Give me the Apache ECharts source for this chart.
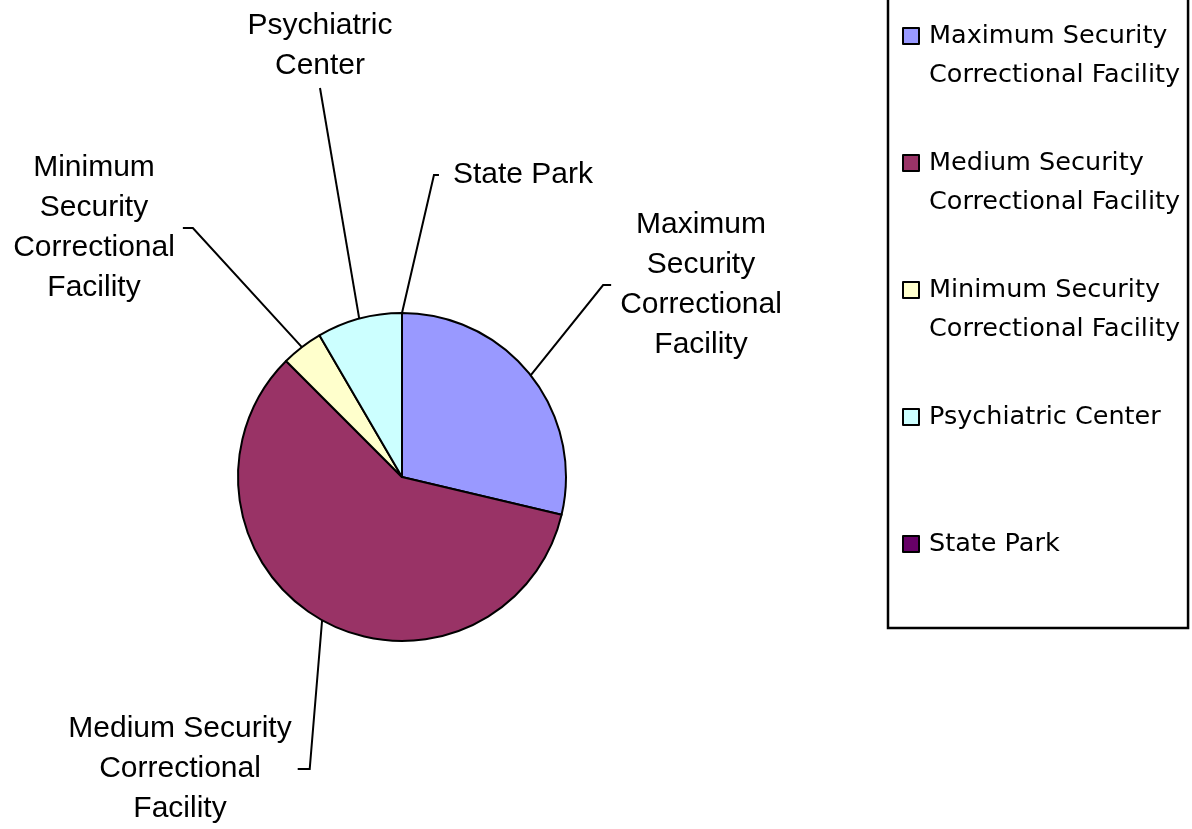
<!DOCTYPE html>
<html>
<head>
<meta charset="utf-8">
<script src="https://cdn.jsdelivr.net/npm/echarts@6/dist/echarts.min.js"></script>
<style>
  html, body { margin: 0; padding: 0; background: #fff; }
  #chart { width: 1192px; height: 829px; }
</style>
</head>
<body>
<div id="chart"></div>
<script>
// ---- data ----
const categories = [
  'Maximum Security Correctional Facility',
  'Medium Security Correctional Facility',
  'Minimum Security Correctional Facility',
  'Psychiatric Center',
  'State Park'
];
const values = [28.7, 58.8, 4.1, 8.4, 0];
const labelTexts = [
  'Maximum\nSecurity\nCorrectional\nFacility',
  'Medium Security\nCorrectional\nFacility',
  'Minimum\nSecurity\nCorrectional\nFacility',
  'Psychiatric\nCenter',
  'State Park'
];
const legendTexts = [
  'Maximum Security\nCorrectional Facility',
  'Medium Security\nCorrectional Facility',
  'Minimum Security\nCorrectional Facility',
  'Psychiatric Center',
  'State Park'
];
const colors = ['#9999FF', '#993366', '#FFFFCC', '#CCFFFF', '#660066'];

// ---- label placement (layout only) ----
const labelPlace = [
  { cx: 701, cy: 285, side: 'left',   gap: 9,  tick: 8 },
  { cx: 180, cy: 769, side: 'right',  gap: 6,  tick: 12 },
  { cx: 94,  cy: 228, side: 'right',  gap: 8,  tick: 10 },
  { cx: 320, cy: 46,  side: 'bottom', gap: 2,  tick: 0 },
  { cx: 523, cy: 175, side: 'left',   gap: 14, tick: 5 }
];

const chart = echarts.init(document.getElementById('chart'), null, { renderer: 'canvas' });

const option = {
  backgroundColor: '#ffffff',
  animation: false,
  color: colors,
  legend: {
    orient: 'vertical',
    left: 888,
    top: -30,
    padding: [7.5, 8, 25.5, 14],
    itemGap: 10,
    itemWidth: 16,
    itemHeight: 16,
    icon: 'rect',
    selectedMode: false,
    borderColor: '#000',
    borderWidth: 2.5,
    itemStyle: { borderColor: '#000', borderWidth: 2 },
    data: categories,
    formatter: function (name) {
      const t = legendTexts[categories.indexOf(name)];
      return t.indexOf('\n') >= 0 ? ' \n' + t : ' \n' + t + '\n ';
    },
    textStyle: {
      fontFamily: 'DejaVu Sans',
      fontSize: 25.5,
      lineHeight: 39,
      color: '#000',
      padding: [0, 0, 0, 5]
    }
  },
  series: [{
    type: 'pie',
    center: [402, 477],
    radius: 164,
    startAngle: 90,
    clockwise: true,
    avoidLabelOverlap: false,
    silent: true,
    emphasis: { disabled: true, scale: false },
    itemStyle: { borderColor: '#000', borderWidth: 2 },
    label: {
      show: true,
      position: 'outside',
      formatter: function (p) { return labelTexts[p.dataIndex]; },
      fontFamily: 'Liberation Sans, Arial, sans-serif',
      fontSize: 30,
      lineHeight: 40,
      color: '#000',
      align: 'center'
    },
    labelLine: {
      show: true,
      length: 10,
      length2: 10,
      lineStyle: { color: '#000', width: 2 }
    },
    labelLayout: function (p) {
      const lp = labelPlace[p.dataIndex];
      const w = p.labelRect.width, h = p.labelRect.height;
      const start = p.labelLinePoints ? p.labelLinePoints[0] : [lp.cx, lp.cy];
      let anchor, tick;
      if (lp.side === 'left') {
        anchor = [lp.cx - w / 2 - lp.gap, lp.cy];
        tick = [anchor[0] - lp.tick, lp.cy];
      } else if (lp.side === 'right') {
        anchor = [lp.cx + w / 2 + lp.gap, lp.cy];
        tick = [anchor[0] + lp.tick, lp.cy];
      } else {
        anchor = [lp.cx, lp.cy + h / 2 + lp.gap];
        tick = [lp.cx, anchor[1] + lp.tick];
      }
      return {
        x: lp.cx,
        y: lp.cy,
        align: 'center',
        verticalAlign: 'middle',
        labelLinePoints: [start, tick, anchor]
      };
    },
    data: categories.map(function (c, i) { return { name: c, value: values[i] }; })
  }]
};

chart.setOption(option);
</script>
</body>
</html>
